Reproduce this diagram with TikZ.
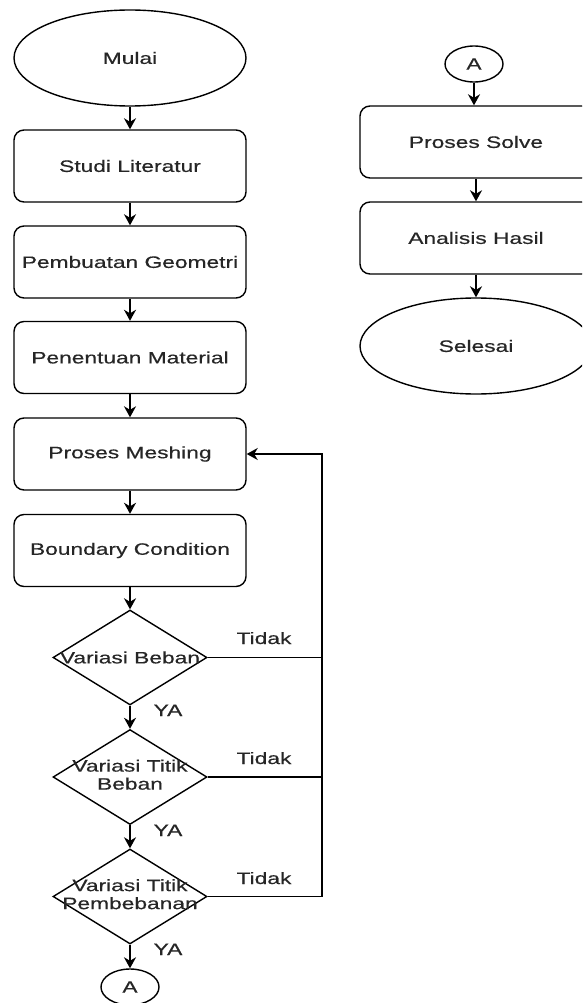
\documentclass[tikz,border=0pt]{standalone}
\usepackage{fontspec}
\setmainfont{Liberation Sans}
\newfontfamily\fakefont[FakeBold=0.4]{Liberation Sans}
\usetikzlibrary{shapes.geometric,arrows.meta}
\newcommand{\sx}[1]{\scalebox{1.38}[1]{#1}}
\begin{document}
\begin{tikzpicture}[x=1pt,y=-1pt,
  every node/.style={font=\fakefont\fontsize{16.5}{18}\selectfont, text=black!85},
  box/.style={draw, rounded corners=10pt, minimum width=232pt, minimum height=72pt, inner sep=0pt, line width=1.4pt},
  term/.style={draw, ellipse, minimum width=232pt, minimum height=96pt, inner sep=0pt, line width=1.4pt},
  conn/.style={draw, ellipse, minimum width=58pt, minimum height=36pt, inner sep=0pt, line width=1.4pt},
  dec/.style={draw, diamond, minimum width=154pt, minimum height=95pt, inner sep=0pt, line width=1.4pt},
  arr/.style={-{Stealth[length=11pt,width=12pt,inset=3.5pt]}, line width=1.6pt},
  ln/.style={line width=1.6pt}]
\useasboundingbox (0,0) rectangle (582,1003);
\clip (0,0) rectangle (582,1003);
% left column
\node[term] (mulai) at (130,58) {\sx{Mulai}};
\node[box] (studi) at (130,166) {\sx{Studi Literatur}};
\node[box] (geom) at (130,262) {\sx{Pembuatan Geometri}};
\node[box] (mat) at (130,357.5) {\sx{Penentuan Material}};
\node[box] (mesh) at (130,454) {\sx{Proses Meshing}};
\node[box] (bc) at (130,550.5) {\sx{Boundary Condition}};
\node[dec] (d1) at (130,657.5) {};
\node (t1) at (d1) {\sx{Variasi Beban}};
\node[dec] (d2) at (130,777) {};
\node (t2) at (d2) {\sx{\begin{tabular}{@{}c@{}}Variasi Titik\\Beban\end{tabular}}};
\node[dec] (d3) at (130,896.5) {};
\node (t3) at (d3) {\sx{\begin{tabular}{@{}c@{}}Variasi Titik\\Pembebanan\end{tabular}}};
\node[conn] (a1) at (130,987) {\sx{A}};
% right column
\node[conn] (a2) at (474,64) {\sx{A}};
\node[box] (solve) at (476,142) {\sx{Proses Solve}};
\node[box] (anal) at (476,238) {\sx{Analisis Hasil}};
\node[term] (sel) at (476,346) {\sx{Selesai}};
% connectors
\draw[arr] (mulai) -- (studi);
\draw[arr] (studi) -- (geom);
\draw[arr] (geom) -- (mat);
\draw[arr] (mat) -- (mesh);
\draw[arr] (mesh) -- (bc);
\draw[arr] (bc) -- (d1);
\draw[arr] (d1) -- (d2);
\draw[arr] (d2) -- (d3);
\draw[arr] (d3) -- (a1);
\draw[arr] (a2.south) -- (a2.south |- solve.north);
\draw[arr] (solve) -- (anal);
\draw[arr] (anal) -- (sel);
\coordinate (rx) at (322,0);
\draw[ln] (d1.east) -- (d1.east -| rx);
\draw[ln] (d2.east) -- (d2.east -| rx);
\draw[arr] (d3.east) -- (d3.east -| rx) |- (mesh.east);
% labels
\node[anchor=base] (n1) at (264,644) {\sx{Tidak}};
\node[anchor=base] (n2) at (264,764) {\sx{Tidak}};
\node[anchor=base] (n3) at (264,884) {\sx{Tidak}};
\node[anchor=base] (y1) at (168,716) {\sx{YA}};
\node[anchor=base] (y2) at (168,836) {\sx{YA}};
\node[anchor=base] (y3) at (168,955) {\sx{YA}};
\end{tikzpicture}
\end{document}
